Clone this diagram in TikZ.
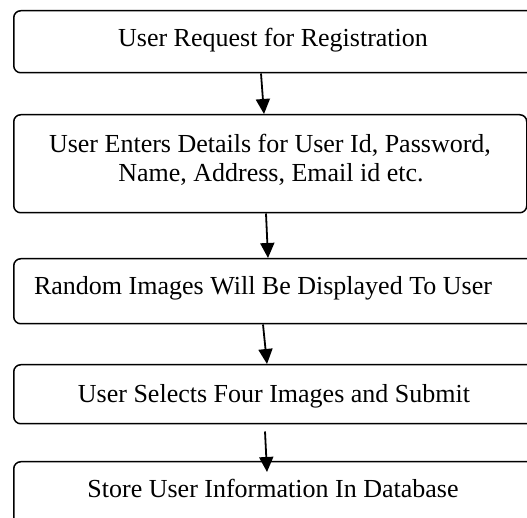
\documentclass[tikz,border=0pt]{standalone}
\usepackage{fontspec}
\setmainfont{Liberation Serif}
\usetikzlibrary{arrows.meta}
\begin{document}
\begin{tikzpicture}[x=1pt,y=1pt,
  box/.style={draw,line width=1.5pt,rounded corners=7pt,rectangle,anchor=north west,inner sep=0pt},
  lbl/.style={anchor=base,inner sep=0pt,font=\fontsize{26}{29}\selectfont},
  arr/.style={line width=1.8pt,-{Triangle[length=15pt,width=14pt]}}]
\useasboundingbox (0,0) rectangle (527,518);
\clip (0,0) rectangle (527,518);
\node[box,minimum width=527pt,minimum height=62pt] (b1) at (13,508) {};
\node[box,minimum width=513pt,minimum height=98pt] (b2) at (13,404) {};
\node[box,minimum width=527pt,minimum height=65pt] (b3) at (13,260) {};
\node[box,minimum width=527pt,minimum height=59pt] (b4) at (13,154) {};
\node[box,minimum width=527pt,minimum height=79pt] (b5) at (13,57) {};
\node[lbl] (t1) at (273,471) {User Request for Registration};
\node[lbl] (t2a) at (270,365) {User Enters Details for User Id, Password,};
\node[lbl] (t2b) at (271,336) {Name, Address, Email id etc.};
\node[lbl] (t3) at (263,223) {Random Images Will Be Displayed To User};
\node[lbl] (t4) at (274,115) {User Selects Four Images and Submit};
\node[lbl] (t5) at (273,20) {Store User Information In Database};
\draw[arr] ([xshift=248pt]b1.south west) -- ([xshift=251pt]b2.north west);
\draw[arr] ([xshift=253pt]b2.south west) -- ([xshift=255pt]b3.north west);
\draw[arr] ([xshift=250pt]b3.south west) -- ([xshift=254pt]b4.north west);
\draw[arr] ([xshift=252pt,yshift=-7pt]b4.south west) -- ([xshift=254pt,yshift=-11pt]b5.north west);
\end{tikzpicture}
\end{document}
